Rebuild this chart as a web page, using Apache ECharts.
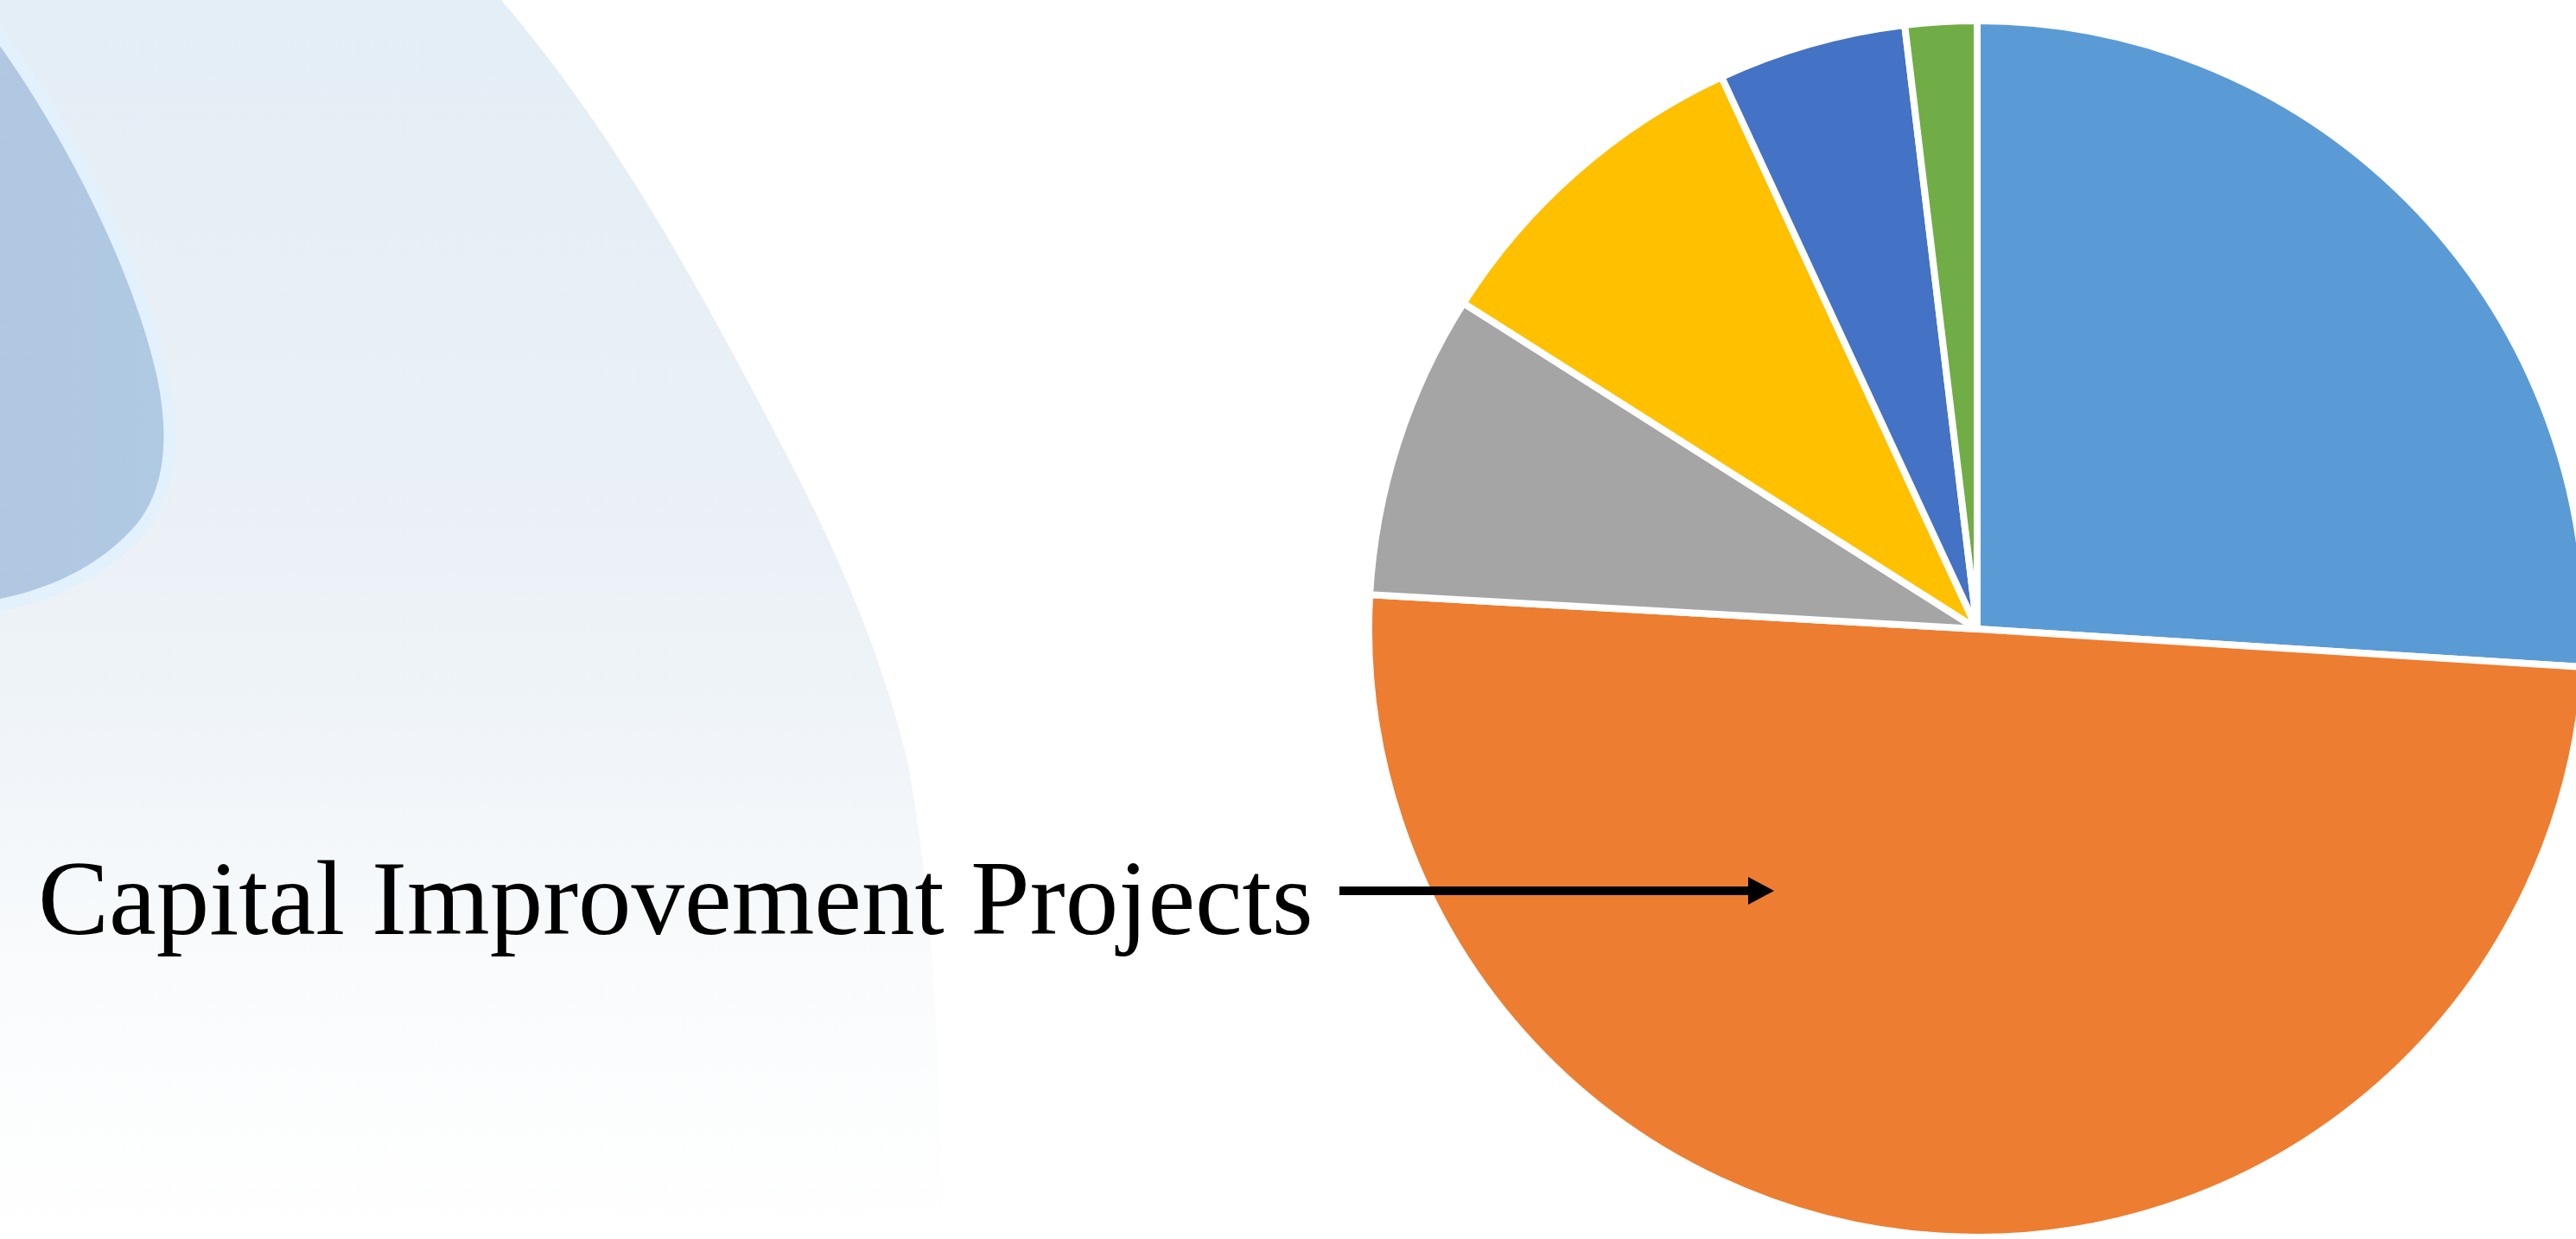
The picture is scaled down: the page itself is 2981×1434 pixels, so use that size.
<!DOCTYPE html>
<html>
<head>
<meta charset="utf-8">
<title>Capital Improvement Projects</title>
<script src="https://cdn.jsdelivr.net/npm/echarts@6/dist/echarts.min.js"></script>
<style>
  html, body { margin: 0; padding: 0; background: #ffffff; }
  #chart { width: 2981px; height: 1434px; }
</style>
</head>
<body>
<div id="chart"></div>
<script>
// slice order: clockwise from 12 o'clock
const sliceNames = ["Segment A", "Capital Improvement Projects", "Segment C", "Segment D", "Segment E", "Segment F"];
const sliceValues = [26.0, 49.9, 8.1, 9.1, 5.0, 1.9];
const sliceColors = ["#5B9BD5", "#ED7D31", "#A5A5A5", "#FFC000", "#4472C4", "#70AD47"];
const calloutText = "Capital Improvement Projects";

const chart = echarts.init(document.getElementById("chart"), null, { renderer: "canvas" });

// sample a chain of cubic bezier segments into polygon points (background decoration only)
function curvePoints(start, segs, n) {
  const pts = [start];
  let p0 = start;
  segs.forEach((s) => {
    const [c1, c2, p3] = s;
    for (let i = 1; i <= n; i++) {
      const t = i / n, u = 1 - t;
      pts.push([
        u * u * u * p0[0] + 3 * u * u * t * c1[0] + 3 * u * t * t * c2[0] + t * t * t * p3[0],
        u * u * u * p0[1] + 3 * u * u * t * c1[1] + 3 * u * t * t * c2[1] + t * t * t * p3[1]
      ]);
    }
    p0 = p3;
  });
  return pts;
}

const edgePts = curvePoints([580, 0], [
  [[700, 140], [790, 300], [870, 450]],
  [[950, 600], [1010, 720], [1050, 880]],
  [[1080, 1040], [1090, 1250], [1090, 1434]]
], 30);
const backdropPts = [[0, 0]].concat(edgePts, [[0, 1434]]);

const blobPts = curvePoints([-10, 28], [
  [[60, 120], [150, 280], [185, 420]],
  [[205, 500], [200, 570], [160, 615]],
  [[120, 660], [60, 690], [-10, 702]]
], 30);

const pieData = sliceNames.map((name, i) => ({
  name: name,
  value: sliceValues[i],
  itemStyle: { color: sliceColors[i] }
}));

const option = {
  backgroundColor: "#ffffff",
  animation: false,
  graphic: [
    {
      type: "polygon",
      z: -10,
      silent: true,
      shape: { points: backdropPts },
      style: {
        fill: {
          type: "linear", x: 0, y: 0, x2: 0, y2: 1,
          colorStops: [
            { offset: 0, color: "#E4EEF6" },
            { offset: 0.45, color: "#EBF1F6" },
            { offset: 0.62, color: "#F1F5F9" },
            { offset: 0.78, color: "#F9FBFC" },
            { offset: 1, color: "#FFFFFF" }
          ]
        }
      }
    },
    {
      type: "polygon",
      z: -9,
      silent: true,
      shape: { points: blobPts },
      style: {
        fill: {
          type: "linear", x: 0, y: 0, x2: 1, y2: 0,
          colorStops: [
            { offset: 0, color: "#B2C7E1" },
            { offset: 1, color: "#AFCAE3" }
          ]
        },
        stroke: "#E2F1FB",
        lineWidth: 14
      }
    },
    {
      type: "text",
      silent: true,
      x: 44,
      y: 1049,
      style: {
        text: calloutText,
        font: "123px 'Liberation Serif', 'Times New Roman', serif",
        fill: "#000000",
        textAlign: "left",
        textVerticalAlign: "middle"
      }
    },
    {
      type: "line",
      silent: true,
      z: 10,
      shape: { x1: 1550, y1: 1031, x2: 2025, y2: 1031 },
      style: { stroke: "#000000", lineWidth: 10 }
    },
    {
      type: "polygon",
      silent: true,
      z: 10,
      shape: { points: [[2023, 1015], [2053, 1031], [2023, 1047]] },
      style: { fill: "#000000" }
    }
  ],
  series: [
    {
      type: "pie",
      center: [2288, 728],
      radius: 704,
      startAngle: 90,
      clockwise: true,
      silent: true,
      label: { show: false },
      labelLine: { show: false },
      itemStyle: { borderColor: "#ffffff", borderWidth: 8 },
      emphasis: { disabled: true },
      data: pieData
    }
  ]
};

chart.setOption(option);
</script>
</body>
</html>
